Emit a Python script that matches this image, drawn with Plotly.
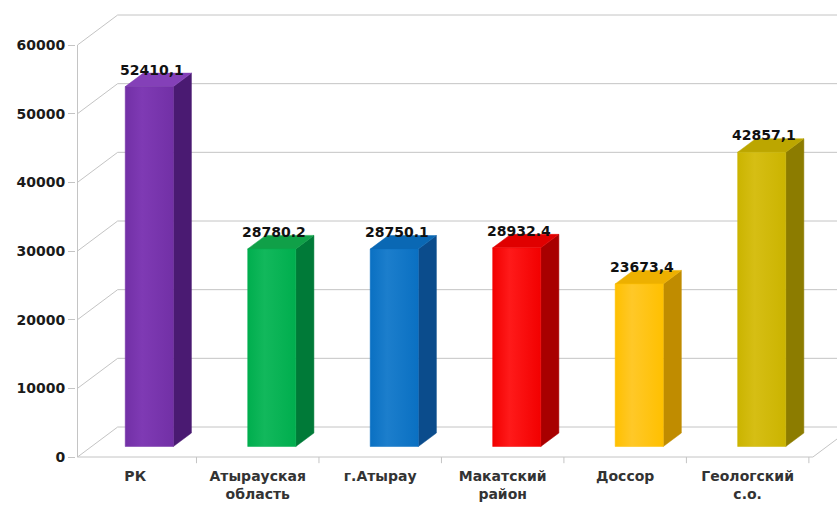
import plotly.graph_objects as go

# ---- data ----
categories = ["РК", "Атырауская<br>область", "г.Атырау", "Макатский<br>район", "Доссор", "Геологский<br>с.о."]
values = [52410.1, 28780.2, 28750.1, 28932.4, 23673.4, 42857.1]
value_labels = ["52410,1", "28780.2", "28750.1", "28932.4", "23673,4", "42857,1"]
y_ticks = [0, 10000, 20000, 30000, 40000, 50000, 60000]

front_colors = ["#7230A6", "#00AE4E", "#0A70C2", "#F20000", "#FFC000", "#CBB400"]
light_colors = ["#7F3AB4", "#12B85C", "#1C7ECC", "#FF1A1A", "#FFC828", "#D6BE14"]
side_colors = ["#4A1A72", "#007A38", "#0B4C8C", "#A80000", "#C08C00", "#8C7C00"]
top_colors = ["#8440B8", "#10A048", "#0A68B4", "#E00000", "#EDB000", "#BCA600"]

# ---- geometry (axis units) ----
DX = 0.3279          # depth shift in x (category units)
DY = 4368.0          # depth shift in y (value units)
X0 = -0.4713         # front-left corner of the floor (front y axis)
XF = 5.533           # front-right corner of floor
XR = 5.75            # right limit for back wall lines
W = 0.393            # bar front width
F0, F1 = 0.35, 0.80  # bar depth fractions (front / back)
GRID = "#C4C4C4"
FONT = "DejaVu Sans"

fig = go.Figure()

def seg(xs, ys, color=GRID, width=1):
    fig.add_trace(go.Scatter(x=xs, y=ys, mode="lines", line=dict(color=color, width=width),
                             hoverinfo="skip", showlegend=False))

# back wall + left wall gridlines
for t in y_ticks:
    seg([X0, X0 + DX, XR], [t, t + DY, t + DY])
# front axis line
seg([X0, X0], [0, y_ticks[-1]])
# floor front edge + right edge
seg([X0, XF, XF + DX], [0, 0, DY])
# category boundary ticks on floor edge
for k in range(len(categories)):
    seg([k + 0.5, k + 0.5], [0, -900])

# bars
for i, v in enumerate(values):
    xc = i + F0 * DX
    xl, xr = xc - W / 2, xc + W / 2
    yb, yt = F0 * DY, v + F0 * DY
    ddx, ddy = (F1 - F0) * DX, (F1 - F0) * DY
    # side face
    fig.add_trace(go.Scatter(x=[xr, xr + ddx, xr + ddx, xr, xr], y=[yb, yb + ddy, yt + ddy, yt, yb],
                             fill="toself", fillcolor=side_colors[i], mode="lines",
                             line=dict(color=side_colors[i], width=0.5), hoverinfo="skip", showlegend=False))
    # top face
    fig.add_trace(go.Scatter(x=[xl, xr, xr + ddx, xl + ddx, xl], y=[yt, yt, yt + ddy, yt + ddy, yt],
                             fill="toself", fillcolor=top_colors[i], mode="lines",
                             line=dict(color=top_colors[i], width=0.5), hoverinfo="skip", showlegend=False))
    # front face
    fig.add_trace(go.Scatter(x=[xl, xr, xr, xl, xl], y=[yb, yb, yt, yt, yb],
                             fill="toself", mode="lines",
                             fillgradient=dict(type="horizontal",
                                               colorscale=[[0, front_colors[i]], [0.35, light_colors[i]],
                                                           [1, front_colors[i]]]),
                             line=dict(color=front_colors[i], width=0.5), hoverinfo="skip", showlegend=False))
    fig.add_annotation(x=xc + 0.02, y=v + 0.58 * DY, text="<b>" + value_labels[i] + "</b>",
                       showarrow=False, yanchor="bottom", xanchor="center",
                       font=dict(family=FONT, size=14, color="#111111"))

fig.update_layout(
    width=837, height=506,
    margin=dict(l=76, r=0, t=10, b=40),
    paper_bgcolor="white", plot_bgcolor="white",
    showlegend=False,
    xaxis=dict(range=[-0.4836, 5.7295], tickmode="array", tickvals=list(range(len(categories))),
               ticktext=["<b>" + c + "</b>" for c in categories], ticks="", showgrid=False,
               zeroline=False, showline=False, fixedrange=True,
               tickfont=dict(family=FONT, size=14, color="#333333")),
    yaxis=dict(range=[-1311, 65097], tickmode="array", tickvals=y_ticks,
               ticktext=["<b>%d</b>" % t for t in y_ticks], ticks="outside", ticklen=7,
               tickcolor=GRID, showgrid=False, zeroline=False, showline=False, fixedrange=True,
               tickfont=dict(family=FONT, size=14, color="#1a1a1a")),
)

fig.write_html("out.html")
